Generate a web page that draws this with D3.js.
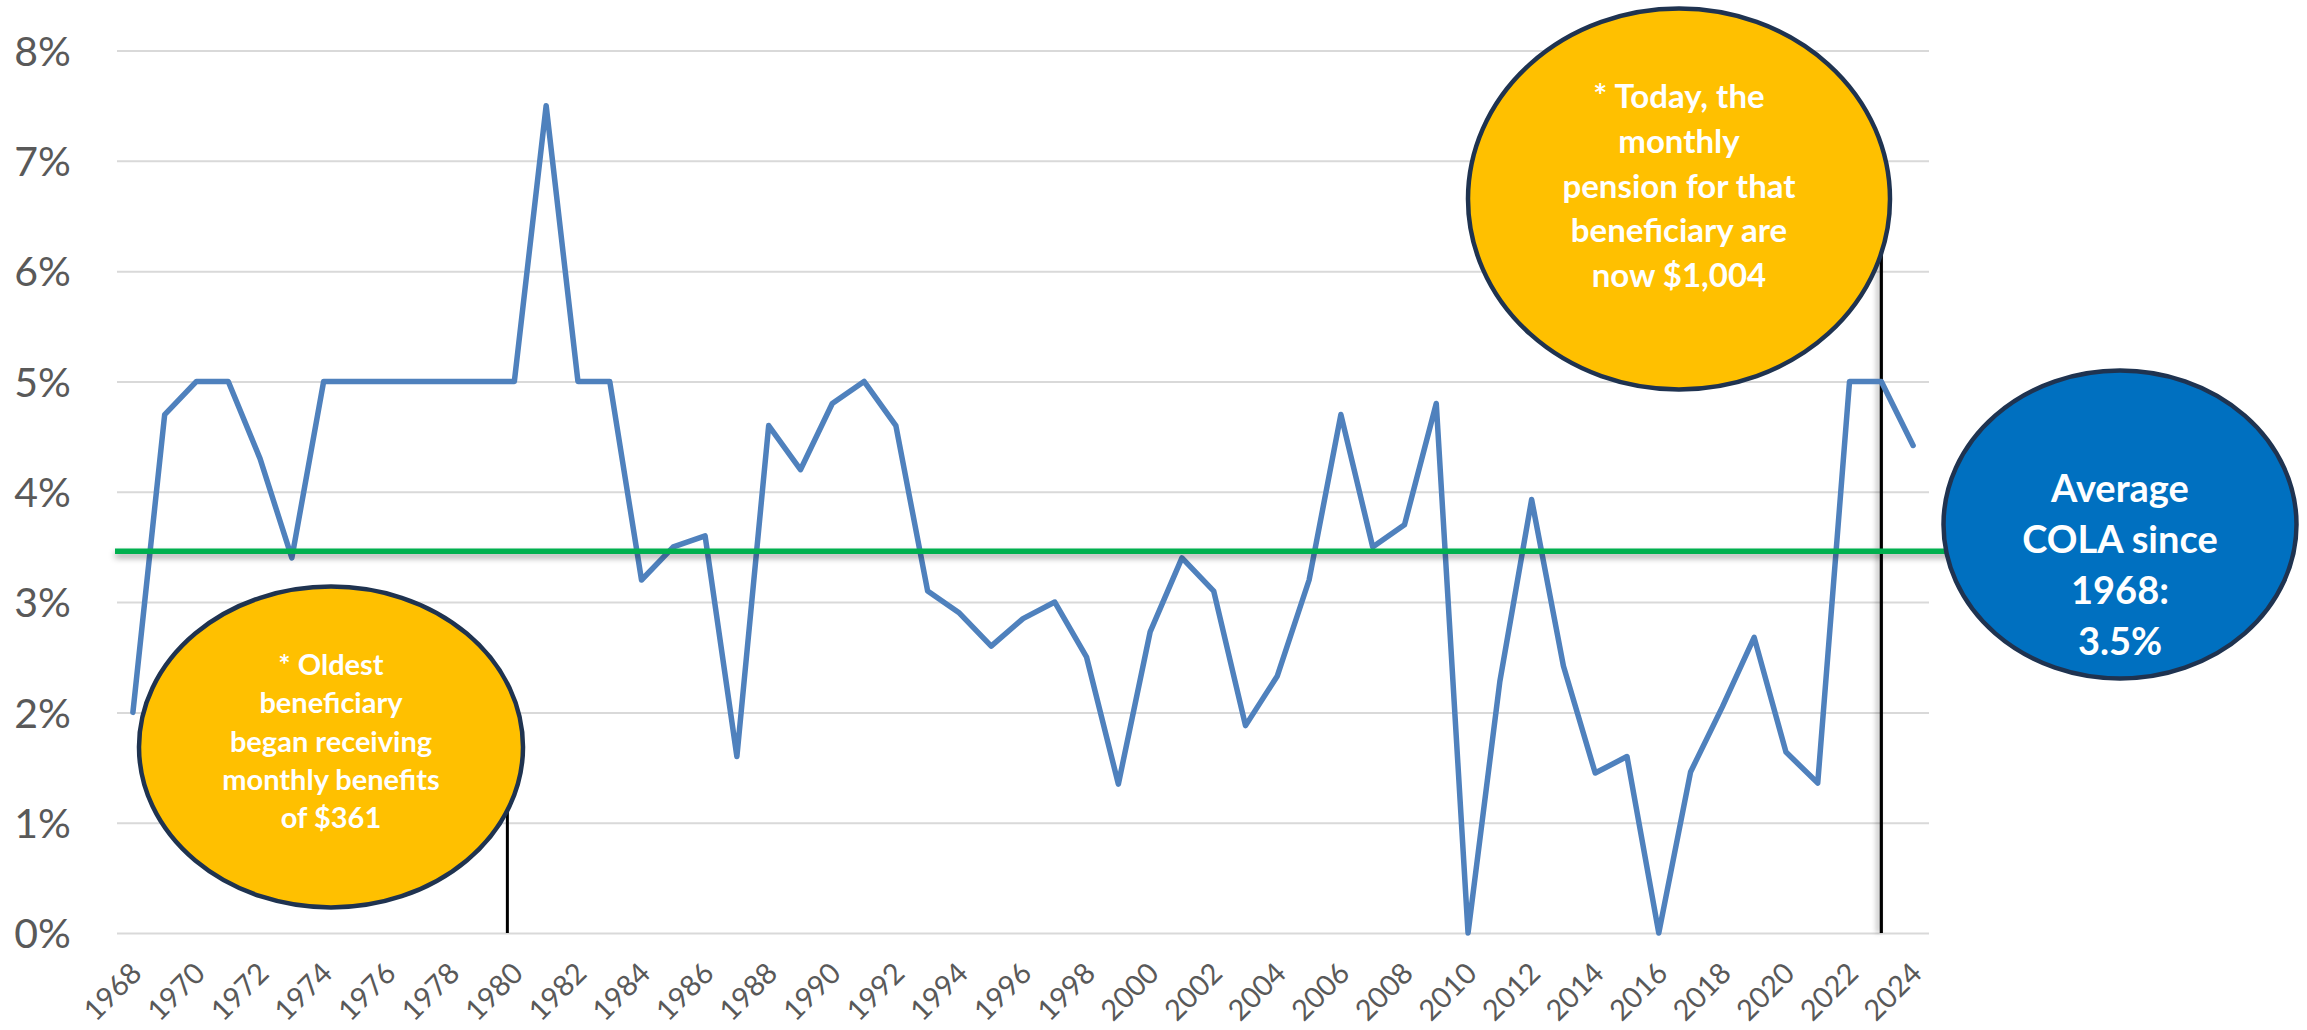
<!DOCTYPE html>
<html>
<head>
<meta charset="utf-8">
<script src="https://cdn.jsdelivr.net/npm/d3@7/dist/d3.min.js"></script>
<style>
  html, body { margin: 0; padding: 0; background: #ffffff; }
  svg { display: block; }
</style>
</head>
<body>
<svg id="chart" width="2307" height="1030"></svg>
<script>
// ---- data ----
const years = [1968,1969,1970,1971,1972,1973,1974,1975,1976,1977,1978,1979,1980,1981,1982,1983,1984,1985,1986,1987,1988,1989,1990,1991,1992,1993,1994,1995,1996,1997,1998,1999,2000,2001,2002,2003,2004,2005,2006,2007,2008,2009,2010,2011,2012,2013,2014,2015,2016,2017,2018,2019,2020,2021,2022,2023,2024];
const colaValues = [2.0,4.7,5.0,5.0,4.3,3.4,5.0,5.0,5.0,5.0,5.0,5.0,5.0,7.5,5.0,5.0,3.2,3.5,3.6,1.6,4.6,4.2,4.8,5.0,4.6,3.1,2.9,2.6,2.85,3.0,2.5,1.35,2.73,3.4,3.1,1.88,2.33,3.2,4.7,3.5,3.7,4.8,0.0,2.28,3.93,2.42,1.45,1.6,0.0,1.46,2.05,2.68,1.64,1.36,5.0,5.0,4.42];
const averageCola = 3.46;
const yTicks = [0,1,2,3,4,5,6,7,8];
const xTickYears = years.filter(y => (y - 1968) % 2 === 0);
const noteOldest = ["* Oldest", "beneficiary", "began receiving", "monthly benefits", "of $361"];
const noteOldestYear = 1980;
const noteToday = ["* Today, the", "monthly", "pension for that", "beneficiary are", "now $1,004"];
const noteTodayYear = 2023;
const noteAverage = ["Average", "COLA since", "1968:", "3.5%"];

// ---- layout ----
const svg = d3.select("#chart");
const plot = { left: 117, right: 1929, top: 50.5, bottom: 933 };

const x = d3.scalePoint().domain(years).range([plot.left, plot.right]).padding(0.5);
const y = d3.scaleLinear().domain([0, 8]).range([plot.bottom, plot.top]);

svg.append("rect").attr("width", 2307).attr("height", 1030).attr("fill", "#ffffff");

const defs = svg.append("defs");
const sh = defs.append("filter").attr("id", "shadow").attr("filterUnits", "userSpaceOnUse")
  .attr("x", 0).attr("y", 0).attr("width", 2307).attr("height", 1030);
sh.append("feDropShadow").attr("dx", 0).attr("dy", 4).attr("stdDeviation", 3).attr("flood-color", "#000").attr("flood-opacity", 0.35);
const sh2 = defs.append("filter").attr("id", "vshadow").attr("filterUnits", "userSpaceOnUse")
  .attr("x", 0).attr("y", 0).attr("width", 2307).attr("height", 1030);
sh2.append("feDropShadow").attr("dx", -3).attr("dy", 0).attr("stdDeviation", 2.5).attr("flood-color", "#000").attr("flood-opacity", 0.3);

// gridlines + y axis
const yAxis = d3.axisLeft(y).tickValues(yTicks).tickFormat(d => d + "%")
  .tickSize(-(plot.right - plot.left)).tickPadding(46);
const gy = svg.append("g").attr("transform", `translate(${plot.left},0)`).call(yAxis);
gy.select(".domain").remove();
gy.selectAll(".tick line").attr("stroke", "#d9d9d9").attr("stroke-width", 2);
gy.selectAll(".tick text")
  .attr("fill", "#595959")
  .style("font-family", "Lato, 'Open Sans', sans-serif")
  .style("font-size", "41px")
  .attr("dy", "0.36em");

// x axis labels
const xAxis = d3.axisBottom(x).tickValues(xTickYears).tickSize(0).tickPadding(0);
const gx = svg.append("g").attr("transform", `translate(0,${plot.bottom})`).call(xAxis);
gx.select(".domain").remove();
gx.selectAll(".tick text")
  .attr("fill", "#595959")
  .style("font-family", "Lato, 'Open Sans', sans-serif")
  .style("font-size", "29px")
  .attr("text-anchor", "end")
  .attr("dy", null)
  .attr("y", null)
  .attr("transform", "translate(10,42) rotate(-45)");

// leader lines (behind ellipses)
svg.append("line")
  .attr("x1", x(noteOldestYear) - 7).attr("x2", x(noteOldestYear) - 7)
  .attr("y1", 760).attr("y2", y(0))
  .attr("stroke", "#000").attr("stroke-width", 3);
svg.append("line")
  .attr("x1", x(noteTodayYear)).attr("x2", x(noteTodayYear))
  .attr("y1", 200).attr("y2", y(0))
  .attr("stroke", "#000").attr("stroke-width", 3.2)
  .attr("filter", "url(#vshadow)");

// COLA line
const line = d3.line().x((d, i) => x(years[i])).y(d => y(d));
svg.append("path")
  .datum(colaValues)
  .attr("d", line)
  .attr("fill", "none")
  .attr("stroke", "#4f81bd")
  .attr("stroke-width", 5.5)
  .attr("stroke-linejoin", "round")
  .attr("stroke-linecap", "round");

// average line
svg.append("line")
  .attr("x1", plot.left - 2).attr("x2", 2250)
  .attr("y1", y(averageCola)).attr("y2", y(averageCola))
  .attr("stroke", "#00b050").attr("stroke-width", 5.5)
  .attr("filter", "url(#shadow)");

// annotations
function bubble(cx, cy, rx, ry, fill, lines, fontSize, lineH, firstBaseline) {
  const g = svg.append("g");
  g.append("ellipse")
    .attr("cx", cx).attr("cy", cy).attr("rx", rx).attr("ry", ry)
    .attr("fill", fill).attr("stroke", "#1f3350").attr("stroke-width", 4.5);
  g.append("text")
    .attr("text-anchor", "middle")
    .attr("fill", "#ffffff")
    .style("font-family", "Lato, 'Open Sans', sans-serif")
    .style("font-weight", "700")
    .style("font-size", fontSize + "px")
    .selectAll("tspan").data(lines).join("tspan")
    .attr("x", cx)
    .attr("y", (d, i) => firstBaseline + i * lineH)
    .text(d => d);
}
bubble(331, 747, 192, 160.5, "#ffc000", noteOldest, 29, 38.3, 675);
bubble(1679, 199, 211, 190.5, "#ffc000", noteToday, 33, 44.8, 108);
bubble(2120, 524.5, 176.5, 154, "#0070c0", noteAverage, 38, 51, 502);
</script>
</body>
</html>
